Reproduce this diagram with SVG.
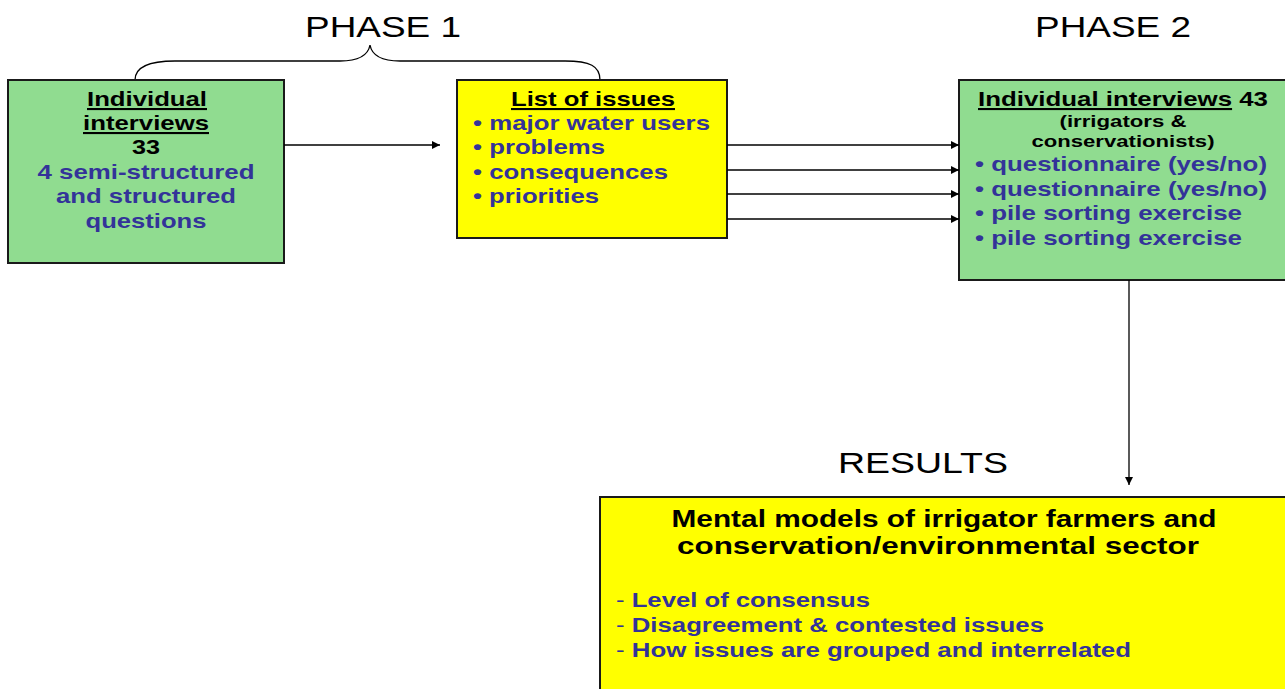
<svg xmlns="http://www.w3.org/2000/svg" width="1285" height="689" viewBox="0 0 1285 689">
  <defs>
    <marker id="arrow" viewBox="0 0 10 10" refX="10" refY="5" markerWidth="10" markerHeight="8" markerUnits="userSpaceOnUse" orient="auto">
      <path d="M0,0 L10,5 L0,10 z" fill="#000"/>
    </marker>
    <style>
      .green { fill: #90dc90; stroke: #1a1a1a; stroke-width: 2; }
      .yellow { fill: #ffff00; stroke: #1a1a1a; stroke-width: 2; }
      .t { font-family: "Liberation Sans", Arial, sans-serif; font-weight: bold; font-size: 21px; }
      .blk { fill: #000; }
      .blu { fill: #333399; }
      .head { font-family: "Liberation Sans", Arial, sans-serif; font-size: 30px; fill: #000; }
      .conn { stroke: #000; stroke-width: 1.3; fill: none; }
    </style>
  </defs>
  <rect width="1285" height="689" fill="#fff"/>

  <!-- headings -->
  <text class="head" x="383" y="37" text-anchor="middle" textLength="156" lengthAdjust="spacingAndGlyphs">PHASE 1</text>
  <text class="head" x="1113" y="37" text-anchor="middle" textLength="156" lengthAdjust="spacingAndGlyphs">PHASE 2</text>
  <text class="head" x="923" y="473" text-anchor="middle" textLength="170" lengthAdjust="spacingAndGlyphs">RESULTS</text>

  <!-- brace over phase 1 -->
  <path class="conn" d="M135,80 C135,66 150,61 175,61 L340,61 C358,61 368,56 370,45 C372,56 382,61 400,61 L565,61 C590,61 600,66 600,80"/>

  <g id="interviews1">
    <rect class="green" x="8" y="80" width="276" height="183"/>
    <text class="t blk" x="147" y="106" text-anchor="middle" text-decoration="underline" textLength="120" lengthAdjust="spacingAndGlyphs">Individual</text>
    <text class="t blk" x="146" y="130" text-anchor="middle" text-decoration="underline" textLength="126" lengthAdjust="spacingAndGlyphs">interviews</text>
    <text class="t blk" x="146" y="154" text-anchor="middle" textLength="28" lengthAdjust="spacingAndGlyphs">33</text>
    <text class="t blu" x="146" y="179" text-anchor="middle" textLength="217" lengthAdjust="spacingAndGlyphs">4 semi-structured</text>
    <text class="t blu" x="146" y="203" text-anchor="middle" textLength="180" lengthAdjust="spacingAndGlyphs">and structured</text>
    <text class="t blu" x="146" y="228" text-anchor="middle" textLength="121" lengthAdjust="spacingAndGlyphs">questions</text>
  </g>

  <g id="issues">
    <rect class="yellow" x="457" y="80" width="270" height="158"/>
    <text class="t blk" x="593" y="106" text-anchor="middle" text-decoration="underline" textLength="164" lengthAdjust="spacingAndGlyphs">List of issues</text>
    <text class="t blu" x="473" y="130" textLength="237" lengthAdjust="spacingAndGlyphs">• major water users</text>
    <text class="t blu" x="473" y="154" textLength="132" lengthAdjust="spacingAndGlyphs">• problems</text>
    <text class="t blu" x="473" y="179" textLength="195" lengthAdjust="spacingAndGlyphs">• consequences</text>
    <text class="t blu" x="473" y="203" textLength="126" lengthAdjust="spacingAndGlyphs">• priorities</text>
  </g>

  <g id="interviews2">
    <rect class="green" x="959" y="80" width="330" height="200"/>
    <text class="t blk" x="978" y="106" textLength="290" lengthAdjust="spacingAndGlyphs"><tspan text-decoration="underline">Individual interviews</tspan> 43</text>
    <text class="t blk" x="1123" y="127" text-anchor="middle" style="font-size:17px" textLength="127" lengthAdjust="spacingAndGlyphs">(irrigators &amp;</text>
    <text class="t blk" x="1123" y="147" text-anchor="middle" style="font-size:17px" textLength="183" lengthAdjust="spacingAndGlyphs">conservationists)</text>
    <text class="t blu" x="975" y="171" textLength="292" lengthAdjust="spacingAndGlyphs">• questionnaire (yes/no)</text>
    <text class="t blu" x="975" y="196" textLength="292" lengthAdjust="spacingAndGlyphs">• questionnaire (yes/no)</text>
    <text class="t blu" x="975" y="220" textLength="267" lengthAdjust="spacingAndGlyphs">• pile sorting exercise</text>
    <text class="t blu" x="975" y="245" textLength="267" lengthAdjust="spacingAndGlyphs">• pile sorting exercise</text>
  </g>

  <g id="results">
    <rect class="yellow" x="600" y="497" width="690" height="200"/>
    <text class="t blk" x="944" y="527" text-anchor="middle" style="font-size:23px" textLength="545" lengthAdjust="spacingAndGlyphs">Mental models of irrigator farmers and</text>
    <text class="t blk" x="938" y="554" text-anchor="middle" style="font-size:23px" textLength="522" lengthAdjust="spacingAndGlyphs">conservation/environmental sector</text>
    <text class="t blu" x="616" y="607" style="font-size:19.5px" textLength="254" lengthAdjust="spacingAndGlyphs"><tspan font-weight="normal">- </tspan>Level of consensus</text>
    <text class="t blu" x="616" y="632" style="font-size:19.5px" textLength="428" lengthAdjust="spacingAndGlyphs"><tspan font-weight="normal">- </tspan>Disagreement &amp; contested issues</text>
    <text class="t blu" x="616" y="657" style="font-size:19.5px" textLength="515" lengthAdjust="spacingAndGlyphs"><tspan font-weight="normal">- </tspan>How issues are grouped and interrelated</text>
  </g>

  <g id="connectors">
    <line class="conn" x1="284" y1="145" x2="440" y2="145" marker-end="url(#arrow)"/>
    <line class="conn" x1="727" y1="145" x2="959" y2="145" marker-end="url(#arrow)"/>
    <line class="conn" x1="727" y1="170" x2="959" y2="170" marker-end="url(#arrow)"/>
    <line class="conn" x1="727" y1="194" x2="959" y2="194" marker-end="url(#arrow)"/>
    <line class="conn" x1="727" y1="219" x2="959" y2="219" marker-end="url(#arrow)"/>
    <line class="conn" x1="1129" y1="280" x2="1129" y2="485" marker-end="url(#arrow)"/>
  </g>
</svg>
